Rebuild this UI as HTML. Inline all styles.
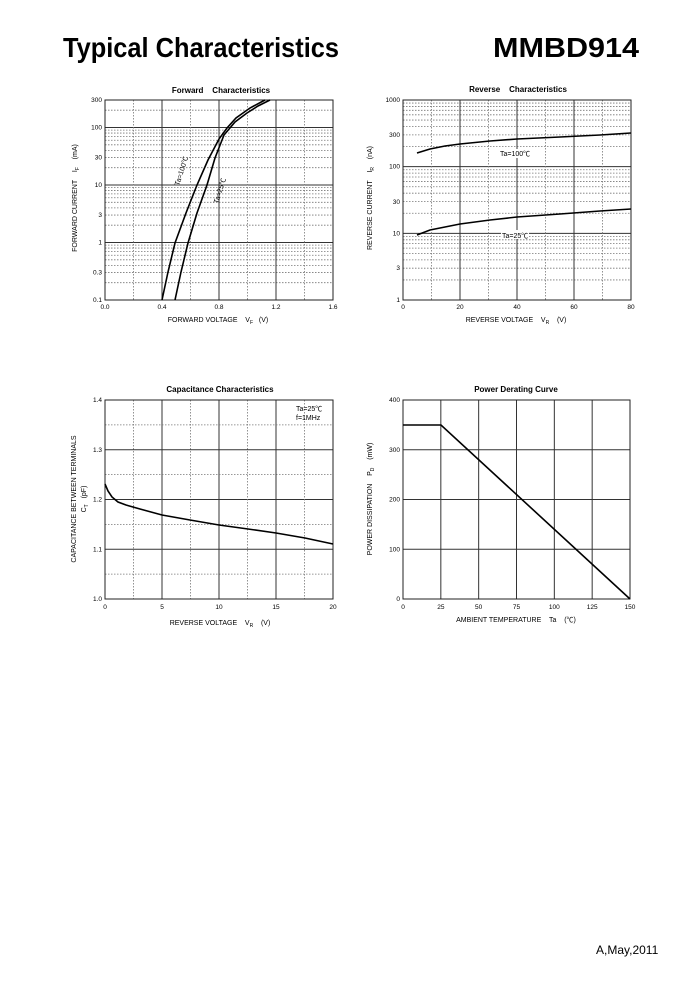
<!DOCTYPE html>
<html><head><meta charset="utf-8">
<style>
body{margin:0;background:#fff;}
svg{display:block;font-family:"Liberation Sans","Noto Sans CJK SC",sans-serif;}
</style></head>
<body>
<svg id="s" width="700" height="1000" viewBox="0 0 700 1000" xmlns="http://www.w3.org/2000/svg">
<rect width="700" height="1000" fill="#fff"/>
<text x="63" y="57" font-size="28" font-weight="bold" textLength="276" lengthAdjust="spacingAndGlyphs">Typical Characteristics</text>
<text x="493" y="57" font-size="28" font-weight="bold" textLength="146" lengthAdjust="spacingAndGlyphs">MMBD914</text>
<text x="596" y="954" font-size="12">A,May,2011</text>
<g id="g"></g>
</svg>
<script>
var g=document.getElementById('g'),h='';
function L(x1,y1,x2,y2,st){h+='<line x1="'+x1+'" y1="'+y1+'" x2="'+x2+'" y2="'+y2+'" '+st+'/>';}
function T(x,y,t,st){h+='<text x="'+x+'" y="'+y+'" '+(st||'')+'>'+t+'</text>';}
var MAJ='stroke="#333" stroke-width="1"',MIN='stroke="#777" stroke-width="0.8" stroke-dasharray="1.5,1.5"';
function logGrid(x0,x1,y0,y1,dec0,ndec){
 var pd=(y1-y0)/ndec;
 for(var d=0;d<ndec;d++){for(var k=2;k<=9;k++){var y=y1-(d+Math.log10(k))*pd;if(y>=y0-0.1)L(x0,y,x1,y,MIN);}
 if(d>0)L(x0,y1-d*pd,x1,y1-d*pd,MAJ);}
}
function P(pts){h+='<polyline fill="none" stroke="#000" stroke-width="1.6" points="'+pts+'"/>';}
var ts='font-size="6.5" text-anchor="end"',tm='font-size="6.5" text-anchor="middle"';
// Forward
(function(){var x0=105,x1=333,y0=100,y1=300,pd=57.5;
 // y range 0.1..300: bottom decade from 0.1
 for(var d=0;d<4;d++){for(var k=2;k<=9;k++){var y=y1-(d+Math.log10(k))*pd;if(y>y0)L(x0,y,x1,y,MIN);} if(d>0)L(x0,y1-d*pd,x1,y1-d*pd,MAJ);}
 for(var i=1;i<8;i++){var x=x0+i*28.5;L(x,y0,x,y1,i%2?MIN:MAJ);}
 h+='<rect x="'+x0+'" y="'+y0+'" width="228" height="200" fill="none" stroke="#222" stroke-width="1"/>';
 [['300',100],['100',127.5],['30',157.5],['10',185],['3',215],['1',242.5],['0.3',272.5],['0.1',300]].forEach(function(a){T(102,a[1]+2,a[0],ts);});
 ['0.0','0.4','0.8','1.2','1.6'].forEach(function(t,i){T(x0+i*57,309,t,tm);});
 T(221,93,'Forward&#160;&#160;&#160;&#160;Characteristics','font-size="8" font-weight="bold" text-anchor="middle"');
 T(218,322,'FORWARD VOLTAGE&#160;&#160;&#160;&#160;V<tspan font-size="5" dy="2">F</tspan><tspan dy="-2">&#160;&#160;&#160;(V)</tspan>','font-size="7" text-anchor="middle"');
 T(0,0,'FORWARD CURRENT&#160;&#160;&#160;&#160;I<tspan font-size="5" dy="2">F</tspan><tspan dy="-2">&#160;&#160;&#160;&#160;(mA)</tspan>','font-size="7" text-anchor="middle" transform="translate(77,198) rotate(-90)"');
 P('162,300 168,272 175,243 186,213 197,185 208,160 219,139 227,128 236,118 250,108 265,100');
 P('175,300 181,272 188,243 197,213 207,185 215,158 224,135 235,122 247,113 258,106 270,100');
 T(0,0,'Ta=100℃','font-size="7" transform="translate(179,186) rotate(-72)"');
 T(0,0,'Ta=25℃','font-size="7" transform="translate(218,204) rotate(-72)"');
})();
// Reverse
(function(){var x0=403,x1=631,y0=100,y1=300,pd=200/3;
 for(var d=0;d<3;d++){for(var k=2;k<=9;k++){var y=y1-(d+Math.log10(k))*pd;L(x0,y,x1,y,MIN);} if(d>0)L(x0,y1-d*pd,x1,y1-d*pd,MAJ);}
 for(var i=1;i<8;i++){var x=x0+i*28.5;L(x,y0,x,y1,i%2?MIN:MAJ);}
 h+='<rect x="'+x0+'" y="'+y0+'" width="228" height="200" fill="none" stroke="#222" stroke-width="1"/>';
 [['1000',100],['300',135],['100',166.7],['30',202],['10',233.3],['3',268],['1',300]].forEach(function(a){T(400,a[1]+2,a[0],ts);});
 ['0','20','40','60','80'].forEach(function(t,i){T(x0+i*57,309,t,tm);});
 T(518,92,'Reverse&#160;&#160;&#160;&#160;Characteristics','font-size="8" font-weight="bold" text-anchor="middle"');
 T(516,322,'REVERSE VOLTAGE&#160;&#160;&#160;&#160;V<tspan font-size="5" dy="2">R</tspan><tspan dy="-2">&#160;&#160;&#160;&#160;(V)</tspan>','font-size="7" text-anchor="middle"');
 T(0,0,'REVERSE CURRENT&#160;&#160;&#160;&#160;I<tspan font-size="5" dy="2">R</tspan><tspan dy="-2">&#160;&#160;&#160;&#160;(nA)</tspan>','font-size="7" text-anchor="middle" transform="translate(372,198) rotate(-90)"');
 P('417,153 430,149 445,146 460,144 490,141 517,139 560,137 600,135 631,133');
 P('417,235 430,230 445,227 460,224 490,220 517,217 560,214 600,211 631,209');
 h+='<rect x="499" y="149" width="34" height="9" fill="#fff"/>';
 T(500,156,'Ta=100℃','font-size="7"');
 h+='<rect x="501" y="230" width="28" height="9" fill="#fff"/>';
 T(502,238,'Ta=25℃','font-size="7"');
})();
// Capacitance
(function(){var x0=105,x1=333,y0=400,y1=599;
 for(var i=1;i<8;i++){var y=y1-i*(199/8);L(x0,y,x1,y,i%2?MIN:MAJ);var x=x0+i*28.5;L(x,y0,x,y1,i%2?MIN:MAJ);}
 h+='<rect x="'+x0+'" y="'+y0+'" width="228" height="199" fill="none" stroke="#222" stroke-width="1"/>';
 ['1.4','1.3','1.2','1.1','1.0'].forEach(function(t,i){T(102,y0+i*49.75+2,t,ts);});
 ['0','5','10','15','20'].forEach(function(t,i){T(x0+i*57,609,t,tm);});
 T(220,392,'Capacitance Characteristics','font-size="8" font-weight="bold" text-anchor="middle"');
 T(220,625,'REVERSE VOLTAGE&#160;&#160;&#160;&#160;V<tspan font-size="5" dy="2">R</tspan><tspan dy="-2">&#160;&#160;&#160;&#160;(V)</tspan>','font-size="7" text-anchor="middle"');
 T(0,0,'CAPACITANCE BETWEEN TERMINALS','font-size="7" text-anchor="middle" transform="translate(76,499) rotate(-90)"');
 T(0,0,'C<tspan font-size="5" dy="2">T</tspan><tspan dy="-2">&#160;&#160;&#160;(pF)</tspan>','font-size="7" text-anchor="middle" transform="translate(86,499) rotate(-90)"');
 T(296,411,'Ta=25℃','font-size="7"');
 T(296,420,'f=1MHz','font-size="7"');
 P('105,484 108,491 112,497 118,502 126,505 140,509 162,515 190,520 219,525 248,529 276,533 305,538 333,544');
})();
// Power
(function(){var x0=403,x1=630,y0=400,y1=599;
 for(var i=1;i<4;i++){var y=y1-i*(199/4);L(x0,y,x1,y,MAJ);}
 for(var i=1;i<6;i++){var x=x0+i*(227/6);L(x,y0,x,y1,MAJ);}
 h+='<rect x="'+x0+'" y="'+y0+'" width="227" height="199" fill="none" stroke="#222" stroke-width="1"/>';
 ['400','300','200','100','0'].forEach(function(t,i){T(400,y0+i*49.75+2,t,ts);});
 ['0','25','50','75','100','125','150'].forEach(function(t,i){T(x0+i*227/6,609,t,tm);});
 T(516,392,'Power Derating Curve','font-size="8" font-weight="bold" text-anchor="middle"');
 T(516,622,'AMBIENT TEMPERATURE&#160;&#160;&#160;&#160;Ta&#160;&#160;&#160;&#160;(℃)','font-size="7" text-anchor="middle"');
 T(0,0,'POWER DISSIPATION&#160;&#160;&#160;&#160;P<tspan font-size="5" dy="2">D</tspan><tspan dy="-2">&#160;&#160;&#160;&#160;(mW)</tspan>','font-size="7" text-anchor="middle" transform="translate(372,499) rotate(-90)"');
 P('403,425 441,425 630,599');
})();
g.innerHTML=h;
</script>
</body></html>
